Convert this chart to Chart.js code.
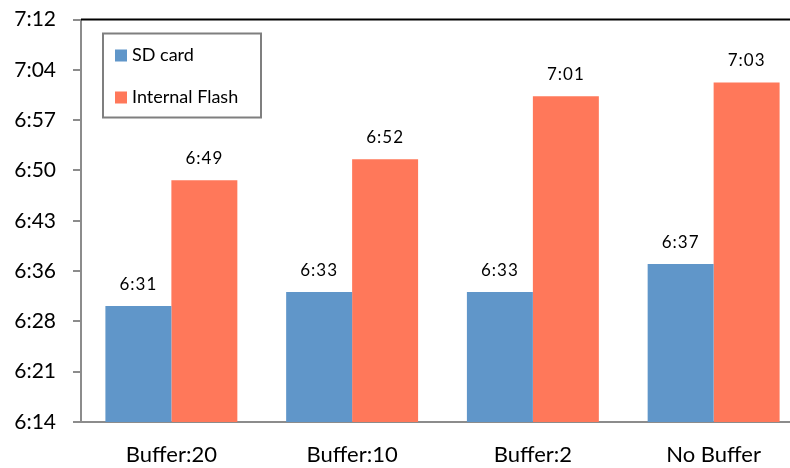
<!DOCTYPE html>
<html>
<head>
<meta charset="utf-8">
<script src="https://cdn.jsdelivr.net/npm/chart.js@4/dist/chart.umd.min.js"></script>
<style>
  html, body { margin: 0; padding: 0; background: #fff; overflow: hidden; }
  #wrap { width: 804px; height: 468px; }
</style>
</head>
<body>
<div id="wrap"><canvas id="chart" width="804" height="468"></canvas></div>
<script>
// categories and values (minutes after midnight)
const categories = ["Buffer:20", "Buffer:10", "Buffer:2", "No Buffer"];
const sdCard = [391, 393, 393, 397];
const internalFlash = [409, 412, 421, 423];
// y ticks: 0.26 .. 0.30 of a day, step 0.005 day = 7.2 min
const tickValues = [374.4, 381.6, 388.8, 396, 403.2, 410.4, 417.6, 424.8, 432];

const FONT = "Lato, 'Open Sans', sans-serif";

function hm(mins) {
  const m = Math.floor(mins + 1e-6);
  const h = Math.floor(m / 60);
  const mm = m % 60;
  return h + ":" + (mm < 10 ? "0" : "") + mm;
}

const valueLabels = {
  id: "valueLabels",
  afterDatasetsDraw(chart) {
    const ctx = chart.ctx;
    ctx.save();
    ctx.font = "17px " + FONT;
    ctx.letterSpacing = "1px";
    ctx.fillStyle = "#000";
    ctx.textAlign = "center";
    ctx.textBaseline = "bottom";
    chart.data.datasets.forEach((ds, i) => {
      chart.getDatasetMeta(i).data.forEach((bar, j) => {
        ctx.fillText(hm(ds.data[j]), bar.x, bar.y - 13);
      });
    });
    ctx.restore();
  }
};

const frame = {
  id: "frame",
  afterDraw(chart) {
    const { ctx, chartArea } = chart;
    ctx.save();
    // top border
    ctx.strokeStyle = "#000";
    ctx.lineWidth = 2;
    ctx.beginPath();
    ctx.moveTo(chartArea.left, chartArea.top);
    ctx.lineTo(chart.width, chartArea.top);
    ctx.stroke();

    // legend box
    const lx = chartArea.left + 22, ly = chartArea.top + 14;
    ctx.strokeStyle = "#7f7f7f";
    ctx.lineWidth = 2;
    ctx.fillStyle = "#fff";
    ctx.fillRect(lx, ly, 158, 84);
    ctx.strokeRect(lx, ly, 158, 84);
    ctx.font = "18px " + FONT;
    ctx.textBaseline = "middle";
    ctx.textAlign = "left";
    chart.data.datasets.forEach((ds, i) => {
      const cy = ly + 22 + i * 42;
      ctx.fillStyle = ds.backgroundColor;
      ctx.fillRect(lx + 12, cy - 6, 12, 12);
      ctx.fillStyle = "#000";
      ctx.fillText(ds.label, lx + 29, cy);
    });
    ctx.restore();
  }
};

new Chart(document.getElementById("chart"), {
  type: "bar",
  data: {
    labels: categories,
    datasets: [
      { label: "SD card", data: sdCard, backgroundColor: "#6096c9" },
      { label: "Internal Flash", data: internalFlash, backgroundColor: "#ff785a" }
    ]
  },
  options: {
    responsive: false,
    animation: false,
    layout: { padding: { top: 19.5, right: 0, bottom: 0, left: 0 } },
    datasets: { bar: { categoryPercentage: 0.73, barPercentage: 1.0 } },
    plugins: { legend: { display: false }, tooltip: { enabled: false } },
    scales: {
      x: {
        grid: { display: false, drawTicks: false },
        border: { display: true, color: "#8c8c8c", width: 2 },
        ticks: { color: "#000", font: { family: FONT, size: 22 }, padding: 20 },
        afterFit(scale) {
          scale.height = 46;
          scale.paddingLeft = 0;
          scale.paddingRight = 0;
        }
      },
      y: {
        min: 374.4,
        max: 432,
        grid: { display: true, drawOnChartArea: false, drawTicks: true, tickLength: 8, color: "#8c8c8c", lineWidth: 2 },
        border: { display: true, color: "#8c8c8c", width: 2 },
        afterBuildTicks(scale) { scale.ticks = tickValues.map(v => ({ value: v })); },
        ticks: {
          color: "#000",
          font: { family: FONT, size: 21 },
          padding: 17,
          callback: v => hm(v)
        },
        afterFit(scale) {
          scale.width = 81;
          scale.paddingTop = 0;
          scale.paddingBottom = 0;
        }
      }
    }
  },
  plugins: [valueLabels, frame]
});
</script>
</body>
</html>
